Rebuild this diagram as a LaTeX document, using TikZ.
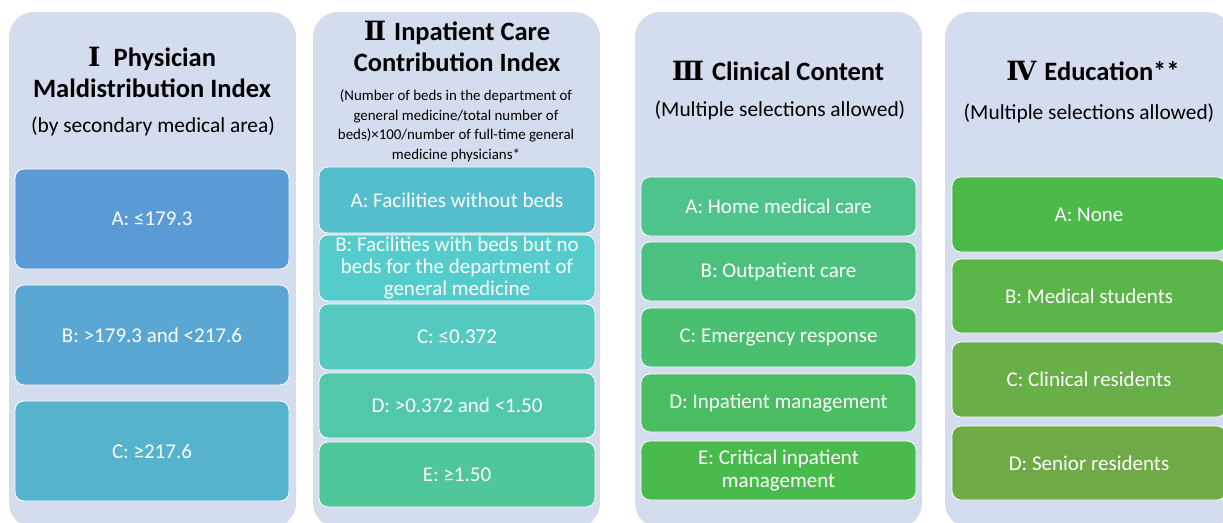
\documentclass[tikz,border=0pt]{standalone}
\usepackage{fontspec}
\setmainfont{Carlito}
\newfontfamily\romanfont{DejaVu Serif}

% panel background
\definecolor{panelbg}{RGB}{212,221,238}
% column I
\definecolor{ia}{RGB}{91,155,213}
\definecolor{ib}{RGB}{90,167,211}
\definecolor{ic}{RGB}{86,179,205}
% column II
\definecolor{iia}{RGB}{84,190,204}
\definecolor{iib}{RGB}{84,204,204}
\definecolor{iic}{RGB}{86,201,192}
\definecolor{iid}{RGB}{82,200,170}
\definecolor{iie}{RGB}{80,198,155}
% column III
\definecolor{iiia}{RGB}{78,196,140}
\definecolor{iiib}{RGB}{76,193,126}
\definecolor{iiic}{RGB}{74,191,112}
\definecolor{iiid}{RGB}{74,189,98}
\definecolor{iiie}{RGB}{73,187,76}
% column IV
\definecolor{iva}{RGB}{76,186,72}
\definecolor{ivb}{RGB}{92,181,72}
\definecolor{ivc}{RGB}{103,175,70}
\definecolor{ivd}{RGB}{112,170,70}

\begin{document}
\begin{tikzpicture}[x=1pt,y=-1pt,
  panel/.style={fill=panelbg, draw=none, rounded corners=25pt,
    minimum width=287pt, minimum height=516pt, inner sep=0pt},
  optbox/.style={draw=white, line width=0.8pt, rounded corners=9pt,
    text=white, inner sep=0pt, align=center,
    font=\fontsize{21}{23}\selectfont},
  heading/.style={font=\bfseries\fontsize{26.5}{31}\selectfont,
    align=center, inner sep=0pt},
  subheading/.style={font=\fontsize{21.4}{24}\selectfont, inner sep=0pt},
  formula/.style={font=\fontsize{14.9}{19.5}\selectfont, align=center,
    inner sep=0pt}
]
\useasboundingbox (0,0) rectangle (1223,522);
\begin{scope}
\clip (0,0) rectangle (1223,522);

% four column panels
\node[panel] (bg1) at (152.5,270) {};
\node[panel] (bg2) at (456.5,270) {};
\node[panel] (bg3) at (778.5,270) {};
\node[panel] (bg4) at (1088.5,270) {};

% column I: physician maldistribution index
\node[heading] (h1) at (152,72)
  {{\romanfont Ⅰ}\hspace{0.5em}Physician\\Maldistribution Index};
\node[subheading] (s1) at (153,126) {(by secondary medical area)};
\node[optbox, fill=ia, minimum width=274pt, minimum height=100pt] (p1a) at (152,219) {A: ≤179.3};
\node[optbox, fill=ib, minimum width=274pt, minimum height=100pt] (p1b) at (152,335) {B: >179.3 and <217.6};
\node[optbox, fill=ic, minimum width=274pt, minimum height=100pt] (p1c) at (152,451) {C: ≥217.6};

% column II: inpatient care contribution index
\node[heading] (h2) at (457,46.5)
  {{\romanfont Ⅱ}\hspace{0.3em}Inpatient Care\\Contribution Index};
\node[formula] (s2) at (456,126)
  {(Number of beds in the department of\\general medicine/total number of\\beds)×100/number of full-time general\\medicine physicians*};
\node[optbox, fill=iia, minimum width=276pt, minimum height=66pt] (p2a) at (457,200) {A: Facilities without beds};
\node[optbox, fill=iib, minimum width=276pt, minimum height=66pt, font=\fontsize{21}{22}\selectfont] (p2b) at (457,268)
  {B: Facilities with beds but no\\beds for the department of\\general medicine};
\node[optbox, fill=iic, minimum width=276pt, minimum height=66pt] (p2c) at (457,337) {C: ≤0.372};
\node[optbox, fill=iid, minimum width=276pt, minimum height=65pt] (p2d) at (457,405.5) {D: >0.372 and <1.50};
\node[optbox, fill=iie, minimum width=276pt, minimum height=65pt] (p2e) at (457,474.5) {E: ≥1.50};

% column III: clinical content
\node[heading] (h3) at (778,71) {{\romanfont Ⅲ}\hspace{0.3em}Clinical Content};
\node[subheading] (s3) at (780,110) {(Multiple selections allowed)};
\node[optbox, fill=iiia, minimum width=275pt, minimum height=59pt] (p3a) at (778.5,206.5) {A: Home medical care};
\node[optbox, fill=iiib, minimum width=275pt, minimum height=59pt] (p3b) at (778.5,271.5) {B: Outpatient care};
\node[optbox, fill=iiic, minimum width=275pt, minimum height=59pt] (p3c) at (778.5,337.5) {C: Emergency response};
\node[optbox, fill=iiid, minimum width=275pt, minimum height=58pt] (p3d) at (778.5,403) {D: Inpatient management};
\node[optbox, fill=iiie, minimum width=275pt, minimum height=59pt] (p3e) at (778.5,470.5) {E: Critical inpatient\\management};

% column IV: education
\node[heading] (h4) at (1093,71) {{\romanfont Ⅳ}\hspace{0.3em}Education**};
\node[subheading] (s4) at (1089,113) {(Multiple selections allowed)};
\node[optbox, fill=iva, minimum width=274pt, minimum height=75pt] (p4a) at (1089,214.5) {A: None};
\node[optbox, fill=ivb, minimum width=274pt, minimum height=74pt] (p4b) at (1089,296) {B: Medical students};
\node[optbox, fill=ivc, minimum width=274pt, minimum height=75pt] (p4c) at (1089,379.5) {C: Clinical residents};
\node[optbox, fill=ivd, minimum width=274pt, minimum height=74pt] (p4d) at (1089,463) {D: Senior residents};
\end{scope}
\end{tikzpicture}
\end{document}
